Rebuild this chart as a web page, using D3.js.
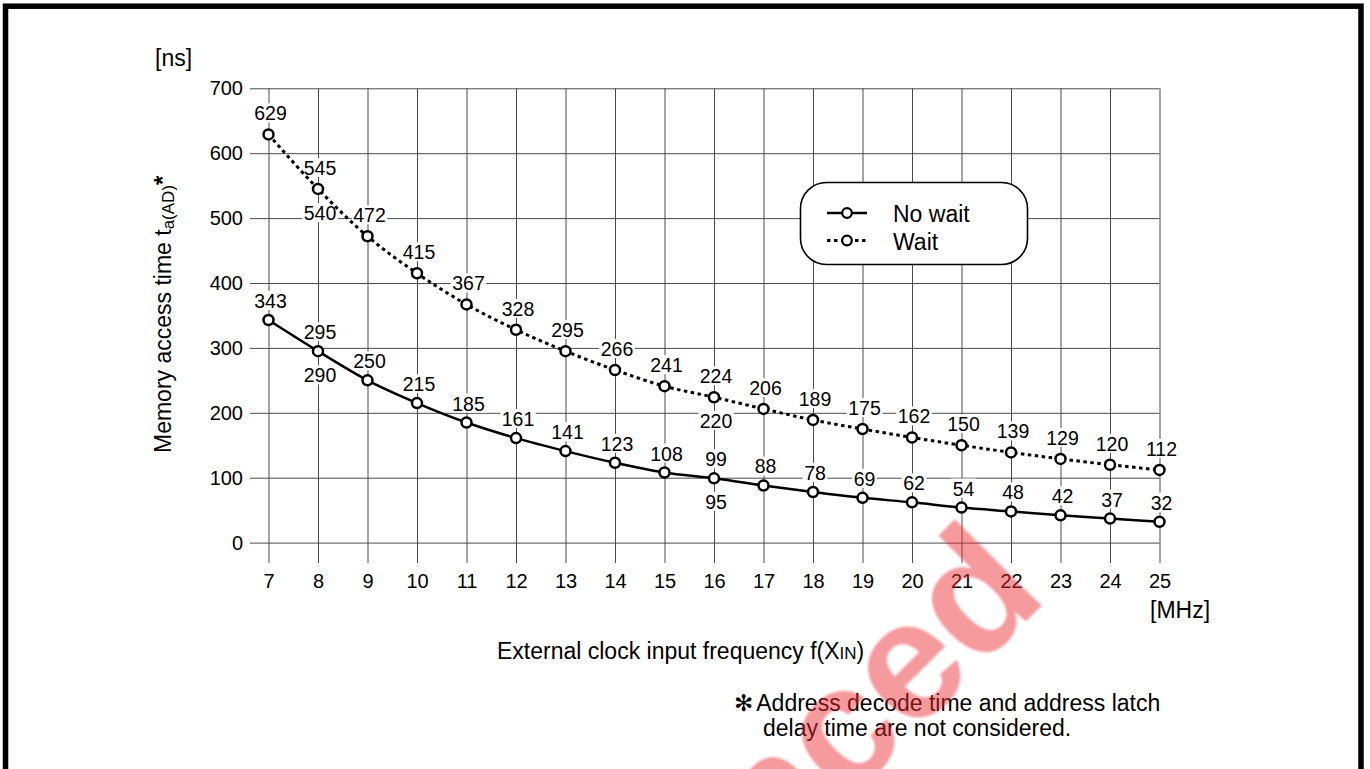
<!DOCTYPE html>
<html>
<head>
<meta charset="utf-8">
<script src="https://cdn.jsdelivr.net/npm/d3@7"></script>
<style>
  html, body { margin: 0; padding: 0; background: #fff; }
  svg { display: block; }
  text { font-family: "Liberation Sans", Arial, sans-serif; fill: #000; }
</style>
</head>
<body>
<svg id="chart" width="1370" height="769"></svg>
<script>
// Memory access time versus external clock frequency
const frequencies = [7, 8, 9, 10, 11, 12, 13, 14, 15, 16, 17, 18, 19, 20, 21, 22, 23, 24, 25];
const noWait = [343, 295, 250, 215, 185, 161, 141, 123, 108, 99, 88, 78, 69, 62, 54, 48, 42, 37, 32];
const wait   = [629, 545, 472, 415, 367, 328, 295, 266, 241, 224, 206, 189, 175, 162, 150, 139, 129, 120, 112];
// second figures quoted at 8 MHz and 16 MHz
const noWaitAltFreq = [8, 16];
const noWaitAlt = [290, 95];
const waitAltFreq = [8, 16];
const waitAlt = [540, 220];
const yTicks = [0, 100, 200, 300, 400, 500, 600, 700];
const seriesNames = ["No wait", "Wait"];

const svg = d3.select("#chart");

const x = d3.scaleLinear().domain([7, 25]).range([268.5, 1159.5]);
const y = d3.scaleLinear().domain([0, 700]).range([542.6, 88.3]);
const gridLeft = 250;
const gridBottom = 563;

// outer frame
svg.append("rect")
  .attr("x", 5.5).attr("y", 6.2)
  .attr("width", 1355.5).attr("height", 900)
  .attr("fill", "none").attr("stroke", "#000").attr("stroke-width", 5.5);

// horizontal grid + y tick labels
const yAxis = svg.append("g")
  .attr("transform", `translate(${gridLeft},0)`)
  .call(d3.axisLeft(y).tickValues(yTicks).tickSize(-(x(25) - gridLeft)).tickPadding(7));
yAxis.select(".domain").remove();
yAxis.selectAll(".tick line").attr("stroke", "#4a4a4a").attr("stroke-width", 1);
yAxis.selectAll(".tick text").attr("font-size", 20).attr("font-family", "Liberation Sans, Arial, sans-serif").attr("fill", "#000");

// vertical grid + x tick labels
const xAxis = svg.append("g")
  .attr("transform", `translate(0,${y(700)})`)
  .call(d3.axisBottom(x).tickValues(frequencies).tickFormat(d3.format("d"))
        .tickSize(gridBottom - y(700)).tickPadding(10.7));
xAxis.select(".domain").remove();
xAxis.selectAll(".tick line").attr("stroke", "#4a4a4a").attr("stroke-width", 1);
xAxis.selectAll(".tick text").attr("font-size", 20).attr("font-family", "Liberation Sans, Arial, sans-serif").attr("fill", "#000");

// value labels with white boxes that break the grid
const labelLayer = svg.append("g");
function addLabel(px, baseline, txt) {
  const g = labelLayer.append("g");
  const t = g.append("text")
    .attr("x", px).attr("y", baseline)
    .attr("text-anchor", "middle")
    .attr("font-size", 19.5)
    .text(txt);
  const b = t.node().getBBox();
  g.insert("rect", "text")
    .attr("x", b.x - 1.5).attr("y", b.y + 1)
    .attr("width", b.width + 3).attr("height", b.height - 3)
    .attr("fill", "#fff");
}
frequencies.forEach((f, i) => {
  addLabel(x(f) + 2, y(noWait[i]) - 12, noWait[i]);
  addLabel(x(f) + 2, y(wait[i]) - 14, wait[i]);
});
noWaitAltFreq.forEach((f, i) => addLabel(x(f) + 2, y(noWaitAlt[i]) + 28, noWaitAlt[i]));
waitAltFreq.forEach((f, i) => addLabel(x(f) + 2, y(waitAlt[i]) + 28, waitAlt[i]));

// curves
const line = d3.line().x(d => x(d[0])).y(d => y(d[1])).curve(d3.curveMonotoneX);
svg.append("path")
  .attr("d", line(frequencies.map((f, i) => [f, noWait[i]])))
  .attr("fill", "none").attr("stroke", "#000").attr("stroke-width", 2.5);
svg.append("path")
  .attr("d", line(frequencies.map((f, i) => [f, wait[i]])))
  .attr("fill", "none").attr("stroke", "#000").attr("stroke-width", 3)
  .attr("stroke-dasharray", "3.5,3.5");

// small marks at the second figures
svg.append("g").selectAll("circle")
  .data(noWaitAltFreq.map((f, i) => [f, noWaitAlt[i]]))
  .join("circle")
  .attr("cx", d => x(d[0])).attr("cy", d => y(d[1])).attr("r", 2.5).attr("fill", "#000");

// markers
function drawMarkers(vals) {
  svg.append("g").selectAll("circle")
    .data(frequencies.map((f, i) => [f, vals[i]]))
    .join("circle")
    .attr("cx", d => x(d[0])).attr("cy", d => y(d[1]))
    .attr("r", 5)
    .attr("fill", "#fff").attr("stroke", "#000").attr("stroke-width", 2.5);
}
drawMarkers(noWait);
drawMarkers(wait);

// legend
const lg = svg.append("g");
lg.append("rect")
  .attr("x", 800.5).attr("y", 182.5).attr("width", 227).attr("height", 82).attr("rx", 26)
  .attr("fill", "#fff").attr("stroke", "#000").attr("stroke-width", 1.6);
const legendRows = [
  { name: seriesNames[0], y: 213, dash: null, w: 2.5 },
  { name: seriesNames[1], y: 240.5, dash: "3.5,3.5", w: 3 }
];
legendRows.forEach(r => {
  lg.append("line").attr("x1", 827).attr("x2", 867).attr("y1", r.y).attr("y2", r.y)
    .attr("stroke", "#000").attr("stroke-width", r.w).attr("stroke-dasharray", r.dash);
  lg.append("circle").attr("cx", 847).attr("cy", r.y).attr("r", 4.8)
    .attr("fill", "#fff").attr("stroke", "#000").attr("stroke-width", 2.2);
  lg.append("text").attr("x", 893).attr("y", r.y + 9).attr("font-size", 23).text(r.name);
});

// axis titles
svg.append("text").attr("x", 155).attr("y", 66).attr("font-size", 23).text("[ns]");
svg.append("text").attr("x", 1150).attr("y", 618).attr("font-size", 23).text("[MHz]");

const yt = svg.append("text")
  .attr("transform", "translate(171,453) rotate(-90)")
  .attr("font-size", 23);
yt.append("tspan").text("Memory access time t");
yt.append("tspan").attr("font-size", 17).attr("dy", 3).text("a(AD)");
yt.append("tspan").attr("font-size", 24).attr("font-weight", "bold").attr("dy", -3).text("*");

const xt = svg.append("text").attr("x", 497).attr("y", 659).attr("font-size", 23);
xt.append("tspan").text("External clock input frequency f(X");
xt.append("tspan").attr("font-size", 17).text("IN");
xt.append("tspan").text(")");

// footnote
const fn = svg.append("text").attr("font-size", 23);
fn.append("tspan").attr("x", 734).attr("y", 711)
  .attr("font-family", "DejaVu Sans, sans-serif").attr("font-size", 23).attr("font-weight", "bold").text("✻");
fn.append("tspan").attr("dx", 3).text("Address decode time and address latch");
svg.append("text").attr("x", 763).attr("y", 736).attr("font-size", 23)
  .text("delay time are not considered.");

// red overlay stamp
const defs = svg.append("defs");
defs.append("filter").attr("id", "soft")
  .append("feGaussianBlur").attr("stdDeviation", 1.2);
svg.append("text")
  .attr("transform", "translate(1050,598) rotate(-45)")
  .attr("text-anchor", "end")
  .attr("font-size", 168).attr("font-weight", "bold")
  .attr("filter", "url(#soft)")
  .style("fill", "rgb(235,40,50)").attr("fill-opacity", 0.48)
  .text("nced");
</script>
</body>
</html>
